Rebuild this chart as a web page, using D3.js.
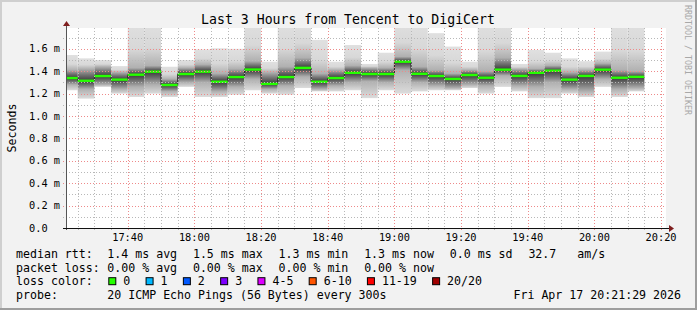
<!DOCTYPE html>
<html>
<head>
<meta charset="utf-8">
<script src="https://cdn.jsdelivr.net/npm/d3@7"></script>
<style>
  body { margin: 0; background: #f2f2f2; }
  svg { display: block; }
  text { font-family: "DejaVu Sans Mono", monospace; fill: #000; }
</style>
</head>
<body>
<div id="chart"></div>
<script>
// 5 minute steps (end time of each step), values in ms
const stepEnds = ["17:25","17:30","17:35","17:40","17:45","17:50","17:55","18:00","18:05","18:10",
  "18:15","18:20","18:25","18:30","18:35","18:40","18:45","18:50","18:55","19:00",
  "19:05","19:10","19:15","19:20","19:25","19:30","19:35","19:40","19:45","19:50",
  "19:55","20:00","20:05","20:10","20:15"];
const medianRtt = [1.339,1.315,1.357,1.325,1.369,1.396,1.277,1.375,1.396,1.306,
  1.348,1.415,1.287,1.348,1.43,1.306,1.339,1.386,1.375,1.375,
  1.485,1.377,1.357,1.331,1.366,1.342,1.414,1.358,1.386,1.405,
  1.325,1.358,1.414,1.342,1.35];
const minRtt = [1.23,1.155,1.26,1.2,1.17,1.2,1.17,1.26,1.17,1.17,
  1.19,1.23,1.2,1.19,1.25,1.22,1.22,1.23,1.16,1.23,
  1.2,1.22,1.23,1.23,1.25,1.2,1.26,1.22,1.16,1.16,
  1.2,1.17,1.26,1.17,1.22];
const lowRtt = [1.28,1.24,1.28,1.24,1.26,1.28,1.22,1.30,1.30,1.22,
  1.26,1.33,1.24,1.27,1.35,1.24,1.27,1.30,1.31,1.30,
  1.41,1.30,1.27,1.25,1.28,1.27,1.36,1.27,1.26,1.30,
  1.24,1.22,1.33,1.24,1.25];
const highRtt = [1.41,1.42,1.44,1.39,1.43,1.45,1.33,1.43,1.46,1.38,
  1.42,1.49,1.39,1.44,1.52,1.38,1.41,1.45,1.43,1.43,
  1.53,1.44,1.41,1.38,1.41,1.40,1.52,1.42,1.42,1.45,
  1.39,1.41,1.47,1.41,1.40];
const maxRtt = [1.545,1.515,1.5,1.446,1.85,1.85,1.44,1.5,1.595,1.605,
  1.6,1.85,1.485,1.85,1.85,1.68,1.485,1.634,1.465,1.565,
  1.85,1.85,1.74,1.62,1.485,1.85,1.85,1.465,1.59,1.565,
  1.515,1.49,1.575,1.85,1.85];

const yTicks = [0, 0.2, 0.4, 0.6, 0.8, 1.0, 1.2, 1.4, 1.6];
const lossLabels = ["0", "1", "2", "3", "4-5", "6-10", "11-19", "20/20"];
const lossColors = ["#26ff00", "#00b8ff", "#0059ff", "#7e00ff", "#dd00ff", "#ff5500", "#ff0000", "#a00000"];
const rttLegend = ["1.4 ms avg", "1.5 ms max", "1.3 ms min", "1.3 ms now", "0.0 ms sd", "32.7   am/s"];
const lossLegend = ["0.00 % avg", "0.00 % max", "0.00 % min", "0.00 % now"];

const W = 697, H = 310;
const cLeft = 66, cRight = 666, cTop = 28, cBottom = 228;
const day = "2026-04-17T";
const parse = d3.timeParse("%Y-%m-%dT%H:%M:%S");
const tEnd = parse(day + "20:21:29");
const tStart = parse(day + "17:21:29");

const svg = d3.select("#chart").append("svg")
  .attr("width", W).attr("height", H);

// background + 3d frame
svg.append("rect").attr("width", W).attr("height", H).attr("fill", "#f2f2f2");
svg.append("rect").attr("x", 0).attr("y", 0).attr("width", W).attr("height", 2).attr("fill", "#cfcfcf");
svg.append("rect").attr("x", 0).attr("y", 0).attr("width", 2).attr("height", H).attr("fill", "#cfcfcf");
svg.append("rect").attr("x", 0).attr("y", H - 2).attr("width", W).attr("height", 2).attr("fill", "#9e9e9e");
svg.append("rect").attr("x", W - 2).attr("y", 0).attr("width", 2).attr("height", H).attr("fill", "#9e9e9e");

svg.append("rect").attr("x", cLeft).attr("y", cTop)
  .attr("width", cRight - cLeft).attr("height", cBottom - cTop).attr("fill", "#fff");

const x = d3.scaleTime().domain([tStart, tEnd]).range([cLeft, cRight]);
const y = d3.scaleLinear().domain([0, 1.786]).range([cBottom, cTop]);

const defs = svg.append("defs");
defs.append("clipPath").attr("id", "clip")
  .append("rect").attr("x", cLeft).attr("y", cTop)
  .attr("width", cRight - cLeft).attr("height", cBottom - cTop);

const data = stepEnds.map((s, i) => {
  const end = parse(day + s + ":00");
  return {
    start: d3.timeMinute.offset(end, -5), end: end,
    med: medianRtt[i], min: minRtt[i], lo: lowRtt[i], hi: highRtt[i], max: maxRtt[i]
  };
});

// smoke gradients, one per step: light outside, dark around the median
data.forEach((d, i) => {
  const span = d.max - d.min;
  const off = v => (d.max - v) / span;
  const g = defs.append("linearGradient").attr("id", "smoke" + i)
    .attr("x1", 0).attr("y1", 0).attr("x2", 0).attr("y2", 1);
  const stops = [
    [0, "#e0e0e0"],
    [off(d.hi) * 0.6, "#d8d8d8"],
    [off(d.hi), "#b0b0b0"],
    [(off(d.hi) + off(d.med)) / 2, "#727272"],
    [off(d.med), "#3a3a3a"],
    [(off(d.lo) + off(d.med)) / 2, "#727272"],
    [off(d.lo), "#b0b0b0"],
    [1, "#dcdcdc"]
  ];
  stops.forEach(s => g.append("stop").attr("offset", s[0]).attr("stop-color", s[1]));
});

const plot = svg.append("g").attr("clip-path", "url(#clip)");

// the smoke
plot.selectAll("rect.smoke").data(data).enter().append("rect")
  .attr("class", "smoke")
  .attr("x", d => x(d.start)).attr("width", d => x(d.end) - x(d.start))
  .attr("y", d => y(d.max)).attr("height", d => y(d.min) - y(d.max))
  .attr("fill", (d, i) => `url(#smoke${i})`);

// grid
const grid = svg.append("g");
const minorY = d3.range(0, 1.75, 0.1).filter(v => !yTicks.some(t => Math.abs(t - v) < 1e-6));
grid.selectAll("line.ym").data(minorY).enter().append("line")
  .attr("x1", cLeft - 3).attr("x2", cRight)
  .attr("y1", d => Math.round(y(d)) + 0.5).attr("y2", d => Math.round(y(d)) + 0.5)
  .attr("stroke", "#b8b8b8").attr("stroke-dasharray", "1,2");
grid.selectAll("line.yM").data(yTicks.slice(1)).enter().append("line")
  .attr("x1", cLeft - 3).attr("x2", cRight)
  .attr("y1", d => Math.round(y(d)) + 0.5).attr("y2", d => Math.round(y(d)) + 0.5)
  .attr("stroke", "#ee8a8a").attr("stroke-dasharray", "1,2");

const minorX = x.ticks(d3.timeMinute.every(5)).filter(t => t.getMinutes() % 20 !== 0);
const majorX = x.ticks(d3.timeMinute.every(20));
grid.selectAll("line.xm").data(minorX).enter().append("line")
  .attr("x1", d => Math.round(x(d)) + 0.5).attr("x2", d => Math.round(x(d)) + 0.5)
  .attr("y1", cTop).attr("y2", cBottom + 2)
  .attr("stroke", "#b8b8b8").attr("stroke-dasharray", "1,2");
grid.selectAll("line.xM").data(majorX).enter().append("line")
  .attr("x1", d => Math.round(x(d)) + 0.5).attr("x2", d => Math.round(x(d)) + 0.5)
  .attr("y1", cTop).attr("y2", cBottom + 2)
  .attr("stroke", "#ee8a8a").attr("stroke-dasharray", "1,2");

// median step line (dark) and loss-coloured bands
const pts = [];
data.forEach(d => { pts.push([d.start, d.med]); pts.push([d.end, d.med]); });
plot.append("path")
  .attr("d", d3.line().x(p => x(p[0])).y(p => y(p[1]))(pts))
  .attr("fill", "none").attr("stroke", "#202020").attr("stroke-width", 1);
plot.selectAll("rect.med").data(data).enter().append("rect")
  .attr("x", d => x(d.start)).attr("width", d => x(d.end) - x(d.start))
  .attr("y", d => y(d.med) - 1.2).attr("height", 2.4)
  .attr("fill", lossColors[0]);

// axes
svg.append("line").attr("x1", cLeft + 0.5).attr("x2", cLeft + 0.5)
  .attr("y1", cBottom + 2).attr("y2", cTop - 4)
  .attr("stroke", "#555").attr("stroke-width", 1);
svg.append("path").attr("d", `M${cLeft - 3},${cTop - 2}L${cLeft + 4},${cTop - 2}L${cLeft + 0.5},${cTop - 7}Z`)
  .attr("fill", "#7f1f1f");
svg.append("line").attr("x1", cLeft - 3).attr("x2", cRight + 3)
  .attr("y1", cBottom + 0.5).attr("y2", cBottom + 0.5)
  .attr("stroke", "#111").attr("stroke-width", 1);
svg.append("path").attr("d", `M${cRight + 3},${cBottom - 3}L${cRight + 3},${cBottom + 4}L${cRight + 8},${cBottom + 0.5}Z`)
  .attr("fill", "#7f1f1f");

// tick labels
svg.selectAll("text.yl").data(yTicks).enter().append("text")
  .attr("x", 29).attr("y", d => y(d) + 3.6)
  .attr("font-size", "10.3px")
  .text(d => d === 0 ? "0.0" : d3.format(".1f")(d) + " m");
svg.selectAll("text.xl").data(majorX).enter().append("text")
  .attr("x", d => x(d)).attr("y", 240.5)
  .attr("text-anchor", "middle").attr("font-size", "10.3px")
  .text(d => d3.timeFormat("%H:%M")(d));

// title, unit label, watermark
svg.append("text").attr("x", 348).attr("y", 23.5).attr("text-anchor", "middle")
  .attr("font-size", "13.2px").text("Last 3 Hours from Tencent to DigiCert");
svg.append("text").attr("transform", "translate(15.5,128) rotate(-90)")
  .attr("text-anchor", "middle").attr("font-size", "11.6px").text("Seconds");
svg.append("text").attr("transform", "translate(685,5) rotate(90)")
  .attr("font-size", "8.3px").style("fill", "#a8a8a8").text("RRDTOOL / TOBI OETIKER");

// legend
const lx = 16, vx = 107.3, gap = 15.8;
const rows = [258, 271.6, 285.2, 298.8];
const lg = svg.append("g").attr("font-size", "11.6px");
function flow(items, yy) {
  let cx = vx;
  items.forEach(s => {
    const t = lg.append("text").attr("x", cx).attr("y", yy).attr("xml:space", "preserve").text(s);
    cx += t.node().getComputedTextLength() + gap;
  });
}
lg.append("text").attr("x", lx).attr("y", rows[0]).text("median rtt:");
flow(rttLegend, rows[0]);
lg.append("text").attr("x", lx).attr("y", rows[1]).text("packet loss:");
flow(lossLegend, rows[1]);
lg.append("text").attr("x", lx).attr("y", rows[2]).text("loss color:");
let bx = vx + 1;
lossLabels.forEach((s, i) => {
  lg.append("rect").attr("x", bx + 0.5).attr("y", rows[2] - 7.5).attr("width", 7).attr("height", 7)
    .attr("fill", lossColors[i]).attr("stroke", "#000").attr("stroke-width", 1);
  const t = lg.append("text").attr("x", bx + 15).attr("y", rows[2]).text(s);
  bx += 15 + t.node().getComputedTextLength() + 15.3;
});
lg.append("text").attr("x", lx).attr("y", rows[3]).text("probe:");
lg.append("text").attr("x", vx).attr("y", rows[3]).text("20 ICMP Echo Pings (56 Bytes) every 300s");
lg.append("text").attr("x", 681).attr("y", rows[3]).attr("text-anchor", "end").text("Fri Apr 17 20:21:29 2026");
</script>
</body>
</html>
